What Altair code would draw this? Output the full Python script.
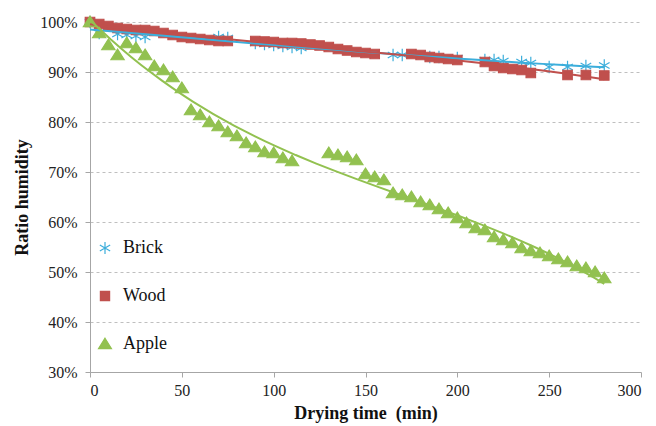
import altair as alt
import pandas as pd

materials = ["Brick", "Wood", "Apple"]
colors = ["#3CAEDB", "#C0504D", "#92C150"]

brick_t = [0, 5, 15, 20, 25, 30, 70, 75, 90, 95, 100, 105, 110, 115, 165, 170, 185, 190, 200,
           215, 220, 225, 235, 240, 250, 260, 270, 280]
brick_h = [100, 97.8, 97.6, 97.4, 97.2, 97.0, 97.0, 96.8, 95.8, 95.6, 95.4, 95.2, 95.0, 94.8, 93.4, 93.4, 93.0, 93.0, 92.8,
           92.4, 92.4, 92.2, 92.0, 91.8, 91.0, 91.0, 91.2, 91.3]

wood_t = [0, 5, 10, 15, 20, 25, 30, 35, 40, 45, 50, 55, 60, 65, 70, 75, 90, 95, 100, 105, 110, 115, 120,
          125, 130, 135, 140, 145, 150, 155, 175, 180, 185, 190, 195, 200, 215, 220, 225, 230, 235, 240,
          260, 270, 280]
wood_h = [100, 99.6, 99.2, 98.8, 98.6, 98.4, 98.4, 98.2, 97.8, 97.4, 97.0, 96.8, 96.6, 96.4, 96.2, 96.2, 96.2, 96.1, 96.0,
          95.8, 95.8, 95.7, 95.5, 95.3, 95.0, 94.6, 94.3, 94.0, 93.8, 93.6, 93.6, 93.4, 93.0, 92.8, 92.6, 92.4,
          92.0, 91.2, 90.8, 90.6, 90.4, 89.8, 89.4, 89.4, 89.3]

apple_t = [0, 5, 10, 15, 20, 25, 30, 35, 40, 45, 50, 55, 60, 65, 70, 75, 80, 85, 90, 95, 100, 105, 110,
           130, 135, 140, 145, 150, 155, 160, 165, 170, 175, 180, 185, 190, 195, 200, 205, 210, 215, 220,
           225, 230, 235, 240, 245, 250, 255, 260, 265, 270, 275, 280]
apple_h = [100, 97.8, 95.4, 93.4, 95.8, 94.8, 93.4, 91.2, 90.4, 89.0, 86.8, 82.4, 81.4, 80.0, 79.2, 78.0, 77.2, 75.8,
           75.0, 74.0, 73.8, 72.8, 72.2, 73.8, 73.4, 73.0, 72.4, 69.6, 69.0, 68.4, 65.8, 65.4, 65.0, 64.0, 63.4,
           62.6, 61.8, 60.8, 59.8, 58.8, 58.4, 57.0, 56.4, 55.8, 54.8, 54.2, 53.8, 53.2, 52.6, 52.0, 51.2, 50.8,
           50.0, 48.8]

rows = []
for name, ts, hs in [("Brick", brick_t, brick_h), ("Wood", wood_t, wood_h), ("Apple", apple_t, apple_h)]:
    for t, h in zip(ts, hs):
        rows.append({"Material": name, "t": t, "h": h / 100.0})
df = pd.DataFrame(rows)

asterisk = "M0,-1.3L0,1.3M-1.12,-0.65L1.12,0.65M-1.12,0.65L1.12,-0.65"
square = "M-1,-1L1,-1L1,1L-1,1Z"
triangle = "M0,-1.25L1.4,1.0L-1.4,1.0Z"
shapes = [asterisk, square, triangle]

xscale = alt.Scale(domain=[0, 300], nice=False)
yscale = alt.Scale(domain=[0.3, 1.0], nice=False)

serif = "Liberation Serif"

xaxis = alt.Axis(values=[0, 50, 100, 150, 200, 250, 300], title="Drying time\u00a0 (min)",
                 grid=False, domainColor="#A6A6A6", tickColor="#A6A6A6", tickSize=5,
                 labelFont=serif, labelFontSize=16, labelColor="#222222", labelPadding=5,
                 titleFont=serif, titleFontSize=18, titleFontWeight="bold", titleColor="#111111",
                 titleY=41, titleBaseline="middle")
yaxis = alt.Axis(values=[0.3, 0.4, 0.5, 0.6, 0.7, 0.8, 0.9, 1.0], format=".0%", title="Ratio humidity",
                 grid=True, gridDash=[3, 3], gridColor="#BFBFBF", domainColor="#A6A6A6",
                 tickColor="#A6A6A6", tickSize=5, labelFont=serif, labelFontSize=16,
                 labelColor="#222222", labelPadding=8,
                 titleFont=serif, titleFontSize=18, titleFontWeight="bold", titleColor="#111111",
                 titleX=-68, titleY=175, titleAngle=-90, titleAlign="center", titleBaseline="middle")

base = alt.Chart(df)

mat_scale = alt.Scale(domain=materials, range=colors)

lines = base.transform_regression(
    "t", "h", method="poly", order=3, groupby=["Material"]
).mark_line(strokeWidth=2).encode(
    x=alt.X("t:Q", scale=xscale, axis=xaxis),
    y=alt.Y("h:Q", scale=yscale, axis=yaxis),
    color=alt.Color("Material:N", scale=mat_scale, legend=None),
)

points = base.mark_point(filled=True, size=90, strokeWidth=1.2, opacity=1).encode(
    x=alt.X("t:Q", scale=xscale),
    y=alt.Y("h:Q", scale=yscale),
    fill=alt.Fill("Material:N", scale=mat_scale, title=None,
                  legend=alt.Legend(orient="none", legendX=6, legendY=217, title=None,
                                    labelFont=serif, labelFontSize=18, labelColor="#111111",
                                    symbolSize=85, labelOffset=9, rowPadding=30, padding=0,
                                    symbolStrokeWidth=1.2)),
    stroke=alt.Stroke("Material:N", scale=mat_scale, title=None),
    shape=alt.Shape("Material:N", scale=alt.Scale(domain=materials, range=shapes), title=None),
)

chart = alt.layer(points, lines).properties(
    width=551, height=350,
    autosize=alt.AutoSizeParams(type="none"),
    padding={"left": 90, "top": 22, "right": 15, "bottom": 54},
    background="white",
).configure_view(stroke=None)

chart.save("out.html", embed_options={"renderer": "svg", "actions": False})
